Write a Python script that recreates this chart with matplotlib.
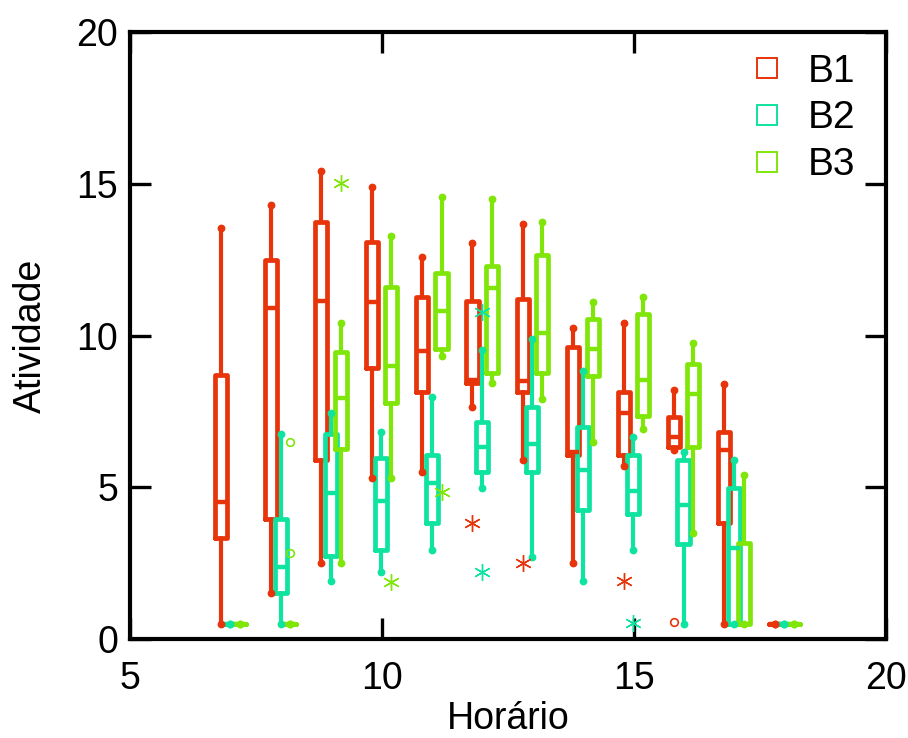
import matplotlib
matplotlib.use("Agg")
import matplotlib.pyplot as plt
from matplotlib.lines import Line2D
import numpy as np

plt.rcParams["font.family"] = ["Liberation Sans", "DejaVu Sans"]

# ── colours ──
RED = "#E8340A"
CYAN = "#0FE3A0"
GREEN = "#80E60A"

# ── data (hours 7..18) ──
hours = [7, 8, 9, 10, 11, 12, 13, 14, 15, 16, 17, 18]
groups = ["B1", "B2", "B3"]

b1_whishi = [13.55, 14.30, 15.42, 14.90, 12.60, 13.04, 13.66, 10.26, 10.40, 8.20, 8.39, 0.5]
b1_q3 = [8.70, 12.49, 13.75, 13.09, 11.26, 11.15, 11.19, 9.63, 8.13, 7.30, 6.83, 0.5]
b1_med = [4.52, 10.90, 11.14, 11.09, 9.50, 8.53, 8.51, 6.17, 7.44, 6.67, 6.23, 0.5]
b1_q1 = [3.32, 3.97, 5.90, 8.94, 8.13, 8.45, 8.13, 6.06, 6.06, 6.32, 3.81, 0.5]
b1_whislo = [0.5, 1.51, 2.49, 5.29, 5.49, 7.63, 5.90, 2.49, 5.70, 6.23, 0.5, 0.5]

b2_whishi = [0.5, 6.75, 7.44, 6.83, 7.98, 9.52, 9.88, 8.83, 6.67, 6.15, 5.90, 0.5]
b2_q3 = [0.5, 3.97, 6.75, 5.97, 6.06, 7.14, 7.65, 7.00, 6.06, 5.90, 4.99, 0.5]
b2_med = [0.5, 2.38, 4.80, 4.56, 5.13, 6.32, 6.41, 5.57, 4.88, 4.42, 2.99, 0.5]
b2_q1 = [0.5, 1.51, 2.73, 2.95, 3.81, 5.49, 5.49, 4.25, 4.12, 3.13, 0.5, 0.5]
b2_whislo = [0.5, 0.5, 1.91, 2.22, 2.95, 4.96, 2.71, 1.91, 2.95, 0.5, 0.5, 0.5]

b3_whishi = [0.5, 0.5, 10.40, 13.28, 14.55, 14.50, 13.75, 11.09, 11.28, 9.74, 5.40, 0.5]
b3_q3 = [0.5, 0.5, 9.45, 11.61, 12.05, 12.30, 12.65, 10.56, 10.71, 9.06, 3.15, 0.5]
b3_med = [0.5, 0.5, 7.95, 9.00, 10.82, 11.58, 10.07, 9.55, 8.53, 8.06, 0.5, 0.5]
b3_q1 = [0.5, 0.5, 6.25, 7.79, 9.55, 8.75, 8.75, 8.67, 7.35, 6.34, 0.5, 0.5]
b3_whislo = [0.5, 0.5, 2.49, 5.29, 9.33, 8.45, 7.91, 6.50, 6.91, 3.48, 0.5, 0.5]

# outliers: (group, hour, value, kind)  kind "*" = outside, "o" = far outside
outliers = [
    ("B3", 8, 6.50, "o"),
    ("B3", 8, 2.82, "o"),
    ("B3", 9, 15.01, "*"),
    ("B3", 10, 1.89, "*"),
    ("B3", 11, 4.85, "*"),
    ("B1", 12, 3.81, "*"),
    ("B2", 12, 10.78, "*"),
    ("B2", 12, 2.22, "*"),
    ("B1", 13, 2.49, "*"),
    ("B1", 15, 1.91, "*"),
    ("B2", 15, 0.52, "*"),
    ("B1", 16, 0.57, "o"),
]

STATS = {
    "B1": (b1_whislo, b1_q1, b1_med, b1_q3, b1_whishi),
    "B2": (b2_whislo, b2_q1, b2_med, b2_q3, b2_whishi),
    "B3": (b3_whislo, b3_q1, b3_med, b3_q3, b3_whishi),
}
COLORS = {"B1": RED, "B2": CYAN, "B3": GREEN}
OFFSETS = {"B1": -0.21, "B2": -0.02, "B3": 0.175}

fig = plt.figure(figsize=(9.08, 7.38), dpi=100)
ax = fig.add_axes([0.1437, 0.1341, 0.8321, 0.8225])

for g in groups:
    lo, q1, med, q3, hi = STATS[g]
    col = COLORS[g]
    pos = [h + OFFSETS[g] for h in hours]
    bstats = [dict(whislo=a, q1=b, med=c, q3=d, whishi=e, fliers=[])
              for a, b, c, d, e in zip(lo, q1, med, q3, hi)]
    ax.bxp(bstats, positions=pos, widths=0.24, showcaps=False,
           showfliers=False, manage_ticks=False,
           boxprops=dict(color=col, linewidth=3.4, solid_joinstyle="round",
                         solid_capstyle="round"),
           medianprops=dict(color=col, linewidth=3.2),
           whiskerprops=dict(color=col, linewidth=3.0, solid_capstyle="round"))
    # whisker end dots
    ax.plot(pos, lo, "o", color=col, markersize=4.6, zorder=3)
    ax.plot(pos, hi, "o", color=col, markersize=4.6, zorder=3)

for g, h, v, kind in outliers:
    x = h + OFFSETS[g]
    if kind == "*":
        ax.plot(x, v, marker=(6, 2, 0), color=COLORS[g], markersize=12,
                markeredgewidth=1.0, linestyle="none", zorder=4)
    else:
        ax.plot(x, v, "o", markerfacecolor="none", markeredgecolor=COLORS[g],
                markersize=5.5, markeredgewidth=1.2, zorder=4)

ax.set_xlim(5, 20)
ax.set_ylim(0, 20)
ax.set_xticks([5, 10, 15, 20])
ax.set_yticks([0, 5, 10, 15, 20])

for spine in ax.spines.values():
    spine.set_linewidth(3)
ax.tick_params(direction="in", length=15, width=2.4, labelsize=27,
               top=True, right=True, pad=9)
ax.tick_params(axis="x", pad=16)

ax.set_xlabel("Horário", fontsize=27, labelpad=3)
ax.set_ylabel("Atividade", fontsize=27, labelpad=20)

handles = [Line2D([], [], marker="s", linestyle="none", markersize=14,
                  markerfacecolor="none", markeredgecolor=COLORS[g],
                  markeredgewidth=1.4) for g in groups]
ax.legend(handles, groups, loc="upper right", frameon=False, fontsize=28,
          handlelength=1.4, handletextpad=0.33, labelspacing=0.28,
          borderaxespad=0.2, bbox_to_anchor=(0.99, 1.003))

fig.savefig("out.png", dpi=100)
